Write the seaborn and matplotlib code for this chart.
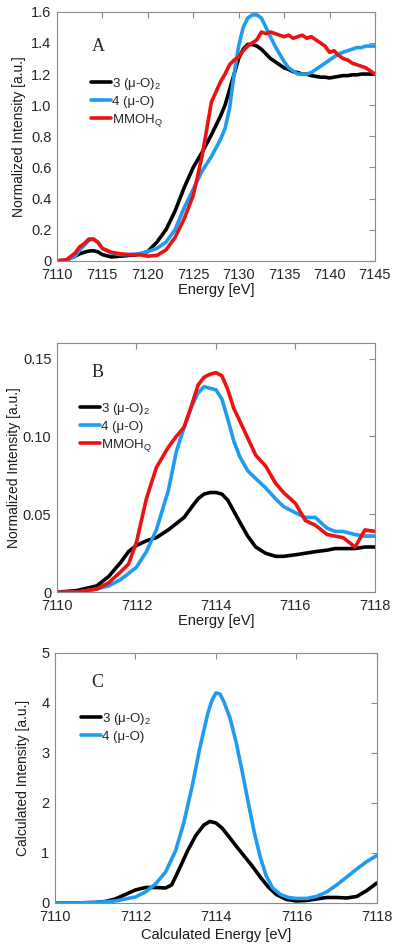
import matplotlib
matplotlib.use("Agg")
import matplotlib.pyplot as plt
import seaborn as sns

# Panel A: full XANES edge
a_energy = [7110, 7111, 7112, 7112.5, 7113, 7113.5, 7114, 7114.5, 7115, 7116, 7117, 7118, 7119,
            7120, 7121, 7122, 7123, 7124, 7125, 7126, 7127, 7128, 7128.5, 7129, 7129.5, 7130,
            7130.5, 7131, 7131.5, 7132, 7132.5, 7133, 7133.5, 7134, 7134.5, 7135, 7135.5, 7136,
            7136.5, 7137, 7137.5, 7138, 7138.5, 7139, 7139.5, 7140, 7140.5, 7141, 7141.5, 7142,
            7142.5, 7143, 7143.5, 7144, 7144.5, 7145]
a_black = [0, 0.005, 0.03, 0.045, 0.055, 0.063, 0.065, 0.058, 0.04, 0.025, 0.03, 0.035, 0.04,
           0.06, 0.12, 0.2, 0.32, 0.47, 0.6, 0.7, 0.81, 0.93, 1.0, 1.1, 1.2, 1.3,
           1.36, 1.39, 1.39, 1.38, 1.36, 1.33, 1.3, 1.28, 1.26, 1.24, 1.23, 1.215,
           1.21, 1.2, 1.2, 1.19, 1.185, 1.18, 1.18, 1.175, 1.18, 1.185, 1.19, 1.19,
           1.195, 1.195, 1.2, 1.2, 1.2, 1.2]
a_blue = [0, 0, 0.03, 0.07, 0.1, 0.13, 0.14, 0.12, 0.08, 0.05, 0.04, 0.04, 0.045,
          0.06, 0.08, 0.12, 0.2, 0.34, 0.46, 0.58, 0.67, 0.78, 0.85, 0.98, 1.2, 1.38,
          1.5, 1.56, 1.58, 1.58, 1.56, 1.5, 1.44, 1.38, 1.33, 1.28, 1.24, 1.22,
          1.2, 1.2, 1.2, 1.21, 1.23, 1.25, 1.27, 1.29, 1.31, 1.33, 1.34, 1.35,
          1.36, 1.37, 1.37, 1.38, 1.38, 1.38]
a_red = [0, 0.005, 0.05, 0.09, 0.11, 0.14, 0.14, 0.12, 0.08, 0.055, 0.045, 0.04, 0.04,
         0.03, 0.035, 0.07, 0.15, 0.27, 0.42, 0.68, 1.02, 1.15, 1.2, 1.26, 1.29, 1.31,
         1.35, 1.38, 1.4, 1.42, 1.47, 1.46, 1.47, 1.46, 1.45, 1.44, 1.45, 1.43,
         1.44, 1.45, 1.43, 1.44, 1.42, 1.4, 1.38, 1.34, 1.35, 1.32, 1.3, 1.29,
         1.27, 1.26, 1.25, 1.24, 1.22, 1.2]

# Panel B: pre-edge
b_energy = [7110, 7110.5, 7111, 7111.3, 7111.6, 7111.8, 7112, 7112.25, 7112.5, 7112.8, 7113,
            7113.2, 7113.4, 7113.55, 7113.7, 7113.85, 7114, 7114.15, 7114.3, 7114.45, 7114.6,
            7114.8, 7115, 7115.25, 7115.5, 7115.7, 7116, 7116.25, 7116.5, 7116.8, 7117,
            7117.2, 7117.5, 7117.75, 7118]
b_black = [0, 0.001, 0.004, 0.01, 0.019, 0.026, 0.03, 0.033, 0.035, 0.04, 0.044,
           0.048, 0.055, 0.06, 0.063, 0.064, 0.064, 0.063, 0.059, 0.052, 0.045,
           0.036, 0.029, 0.025, 0.023, 0.023, 0.024, 0.025, 0.026, 0.027, 0.028,
           0.028, 0.028, 0.029, 0.029]
b_blue = [0, 0, 0.002, 0.004, 0.008, 0.012, 0.016, 0.026, 0.04, 0.065, 0.09,
          0.106, 0.12, 0.128, 0.132, 0.131, 0.13, 0.124, 0.111, 0.097, 0.087,
          0.078, 0.073, 0.067, 0.06, 0.055, 0.051, 0.048, 0.048, 0.041, 0.039,
          0.039, 0.037, 0.036, 0.036]
b_red = [0, 0, 0.002, 0.006, 0.013, 0.018, 0.032, 0.06, 0.08, 0.093, 0.1,
         0.106, 0.121, 0.133, 0.138, 0.14, 0.141, 0.139, 0.13, 0.118, 0.11,
         0.099, 0.088, 0.081, 0.07, 0.064, 0.057, 0.046, 0.043, 0.037, 0.036,
         0.035, 0.029, 0.04, 0.039]

# Panel C: calculated pre-edge
c_energy = [7110, 7110.5, 7111, 7111.25, 7111.5, 7111.75, 7112, 7112.25, 7112.5, 7112.75,
            7112.9, 7113.1, 7113.3, 7113.5, 7113.7, 7113.85, 7114, 7114.15, 7114.3, 7114.5,
            7114.7, 7114.9, 7115.1, 7115.3, 7115.5, 7115.75, 7116, 7116.25, 7116.5, 7116.75,
            7117, 7117.25, 7117.5, 7117.75, 7118]
c_black = [0, 0, 0.01, 0.03, 0.08, 0.17, 0.26, 0.31, 0.31, 0.3,
           0.36, 0.7, 1.05, 1.35, 1.56, 1.63, 1.6, 1.5, 1.35, 1.14,
           0.94, 0.74, 0.52, 0.32, 0.17, 0.07, 0.04, 0.05, 0.08, 0.11,
           0.11, 0.1, 0.13, 0.25, 0.4]
c_blue_energy = [7110, 7110.5, 7111, 7111.5, 7112, 7112.25, 7112.5, 7112.75, 7113, 7113.2,
                 7113.4, 7113.6, 7113.8, 7113.9, 7114, 7114.1, 7114.2, 7114.35, 7114.5, 7114.65,
                 7114.8, 7114.95, 7115.1, 7115.25, 7115.4, 7115.6, 7115.8, 7116, 7116.25, 7116.5,
                 7116.75, 7117, 7117.25, 7117.5, 7117.75, 7118]
c_blue = [0, 0, 0.01, 0.04, 0.12, 0.22, 0.38, 0.62, 1.05, 1.6,
          2.3, 3.1, 3.8, 4.05, 4.2, 4.18, 4.02, 3.7, 3.22, 2.64,
          2.02, 1.42, 0.92, 0.54, 0.31, 0.17, 0.11, 0.09, 0.09, 0.13,
          0.22, 0.36, 0.52, 0.68, 0.83, 0.95]

a_xticks = [7110, 7115, 7120, 7125, 7130, 7135, 7140, 7145]
a_yticks = [0, 0.2, 0.4, 0.6, 0.8, 1.0, 1.2, 1.4, 1.6]
a_yticklabels = ["0", "0.2", "0.4", "0.6", "0.8", "1.0", "1.2", "1.4", "1.6"]
b_xticks = [7110, 7112, 7114, 7116, 7118]
b_yticks = [0, 0.05, 0.10, 0.15]
b_yticklabels = ["0", "0.05", "0.10", "0.15"]
c_yticks = [0, 1, 2, 3, 4, 5]

BLACK = "#000000"
BLUE = "#1f9bf0"
RED = "#ee1111"
LW = 2.6

sns.set_style("white")
plt.rcParams["font.family"] = ["Liberation Sans", "DejaVu Sans"]
plt.rcParams["mathtext.fontset"] = "custom"
plt.rcParams["mathtext.rm"] = "Liberation Sans"
plt.rcParams["mathtext.it"] = "Liberation Sans"

fig = plt.figure(figsize=(4.01, 9.52), dpi=100)
ax_a = fig.add_axes([0.142, 0.726, 0.793, 0.2616])
ax_b = fig.add_axes([0.142, 0.378, 0.793, 0.2616])
ax_c = fig.add_axes([0.137, 0.0515, 0.803, 0.2626])


def style_axes(ax, xlabel, ylabel, xlab_y, ylab_x):
    for s in ax.spines.values():
        s.set_color("#8a8a8a")
        s.set_linewidth(0.8)
    ax.tick_params(direction="in", top=True, right=True, length=4, width=0.8,
                   color="#8a8a8a", labelsize=10.5, labelcolor="#262626")
    ax.tick_params(axis="x", pad=5)
    ax.tick_params(axis="y", pad=4)
    ax.set_xlabel(xlabel, fontsize=10.5, color="#1a1a1a", va="center")
    ax.set_ylabel(ylabel, fontsize=10, color="#1a1a1a", va="center")
    ax.xaxis.set_label_coords(0.5, xlab_y)
    ax.yaxis.set_label_coords(ylab_x, 0.5)


def add_legend(ax, anchor):
    ax.legend(loc="upper left", bbox_to_anchor=anchor, frameon=False, fontsize=9.5,
              handlelength=1.5, handletextpad=0.1, labelspacing=0.3, borderaxespad=0)


lab3 = "3 (μ-O)$_2$"
lab4 = "4 (μ-O)"
labQ = "MMOH$_\\mathrm{Q}$"

# Panel A
sns.lineplot(x=a_energy, y=a_black, color=BLACK, lw=LW, ax=ax_a, label=lab3)
sns.lineplot(x=a_energy, y=a_blue, color=BLUE, lw=LW, ax=ax_a, label=lab4)
sns.lineplot(x=a_energy, y=a_red, color=RED, lw=LW, ax=ax_a, label=labQ)
ax_a.set_xlim(7110, 7145)
ax_a.set_ylim(0, 1.6)
ax_a.set_xticks(a_xticks)
ax_a.set_yticks(a_yticks)
ax_a.set_yticklabels(a_yticklabels)
style_axes(ax_a, "Energy [eV]", "Normalized Intensity [a.u.]", -0.118, -0.118)
ax_a.text(0.11, 0.86, "A", transform=ax_a.transAxes, fontsize=13,
          family="Liberation Serif", va="center")
add_legend(ax_a, (0.09, 0.765))

# Panel B
sns.lineplot(x=b_energy, y=b_black, color=BLACK, lw=LW, ax=ax_b, label=lab3)
sns.lineplot(x=b_energy, y=b_blue, color=BLUE, lw=LW, ax=ax_b, label=lab4)
sns.lineplot(x=b_energy, y=b_red, color=RED, lw=LW, ax=ax_b, label=labQ)
ax_b.set_xlim(7110, 7118)
ax_b.set_ylim(0, 0.16)
ax_b.set_xticks(b_xticks)
ax_b.set_yticks(b_yticks)
ax_b.set_yticklabels(b_yticklabels)
style_axes(ax_b, "Energy [eV]", "Normalized Intensity [a.u.]", -0.115, -0.135)
ax_b.text(0.11, 0.88, "B", transform=ax_b.transAxes, fontsize=13,
          family="Liberation Serif", va="center")
add_legend(ax_b, (0.055, 0.79))

# Panel C
sns.lineplot(x=c_energy, y=c_black, color=BLACK, lw=LW, ax=ax_c, label=lab3)
sns.lineplot(x=c_blue_energy, y=c_blue, color=BLUE, lw=LW, ax=ax_c, label=lab4)
ax_c.set_xlim(7110, 7118)
ax_c.set_ylim(0, 5)
ax_c.set_xticks(b_xticks)
ax_c.set_yticks(c_yticks)
style_axes(ax_c, "Calculated Energy [eV]", "Calculated Intensity [a.u.]", -0.13, -0.1)
ax_c.text(0.112, 0.88, "C", transform=ax_c.transAxes, fontsize=13,
          family="Liberation Serif", va="center")
add_legend(ax_c, (0.065, 0.79))

fig.savefig("out.png", dpi=100)
